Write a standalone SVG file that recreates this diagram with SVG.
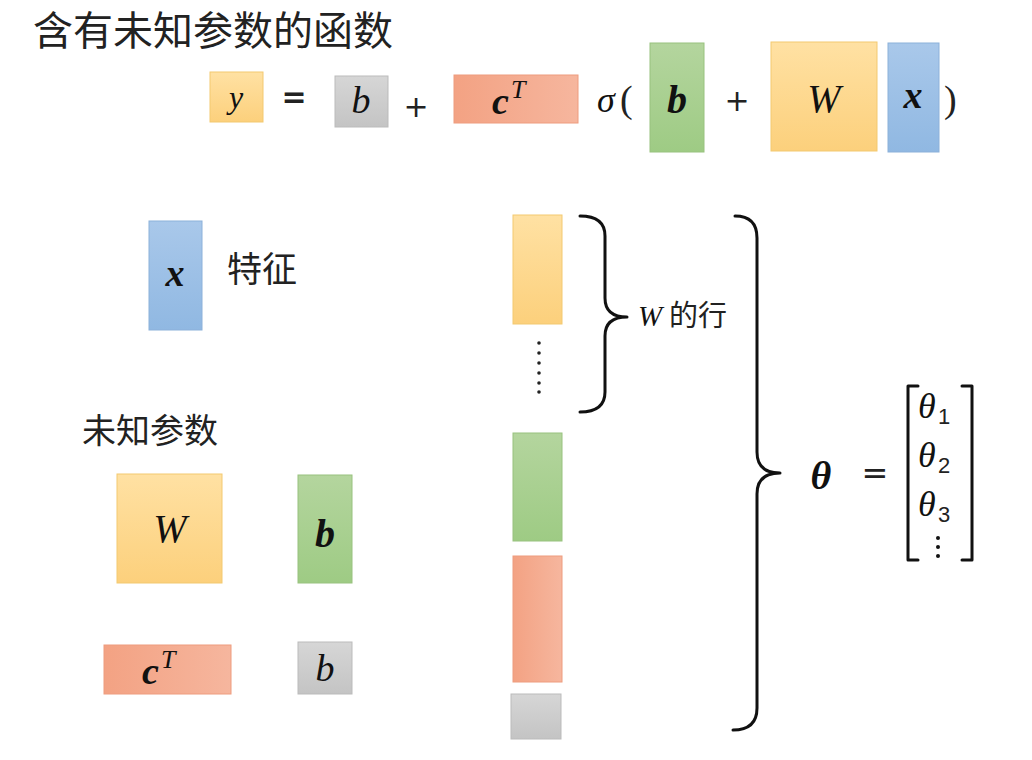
<svg xmlns="http://www.w3.org/2000/svg" width="1032" height="760" viewBox="0 0 1032 760">
<defs>
<linearGradient id="gy" x1="0" y1="0" x2="0" y2="1"><stop offset="0" stop-color="#FFE1A3"/><stop offset="1" stop-color="#FCD07C"/></linearGradient>
<linearGradient id="gg" x1="0" y1="0" x2="0" y2="1"><stop offset="0" stop-color="#B4D59E"/><stop offset="1" stop-color="#9ECB84"/></linearGradient>
<linearGradient id="gs" x1="0" y1="0" x2="1" y2="0"><stop offset="0" stop-color="#F3A283"/><stop offset="1" stop-color="#F6B69E"/></linearGradient>
<linearGradient id="gr" x1="0" y1="0" x2="0" y2="1"><stop offset="0" stop-color="#D6D6D6"/><stop offset="1" stop-color="#C4C4C4"/></linearGradient>
<linearGradient id="gb" x1="0" y1="0" x2="0" y2="1"><stop offset="0" stop-color="#A9C8EA"/><stop offset="1" stop-color="#90B8E2"/></linearGradient>
</defs>
<style>
.yel{fill:url(#gy);stroke:#F3C970;stroke-width:1}
.grn{fill:url(#gg);stroke:#98C27E;stroke-width:1}
.sal{fill:url(#gs);stroke:#EE9C7E;stroke-width:1}
.gry{fill:url(#gr);stroke:#BBBBBB;stroke-width:1}
.blu{fill:url(#gb);stroke:#8CB1DA;stroke-width:1}
.cjk{font-family:"Noto Sans CJK SC","Noto Sans",sans-serif;fill:#222}
.m{font-family:"Liberation Serif","DejaVu Serif",serif;font-style:italic;fill:#111}
.mb{font-family:"Liberation Serif","DejaVu Serif",serif;font-style:italic;font-weight:bold;fill:#111}
.op{font-family:"Liberation Serif","DejaVu Serif",serif;fill:#222}
.eq{font-family:"DejaVu Sans",sans-serif;fill:#222}
.sub{font-family:"Liberation Sans","DejaVu Sans",sans-serif;fill:#222}
.br{fill:none;stroke:#111;stroke-width:3;stroke-linecap:round;stroke-linejoin:round}
</style>
<text class="cjk" x="33" y="45" font-size="40">含有未知参数的函数</text>

<g id="eq">
<rect class="yel" x="210" y="72" width="53" height="50"/>
<text class="m" x="236" y="108" font-size="32" text-anchor="middle">y</text>
<text class="eq" x="294" y="107" font-size="30" text-anchor="middle" font-weight="bold">=</text>
<rect class="gry" x="335" y="76" width="53" height="51"/>
<text class="m" x="361" y="113" font-size="38" text-anchor="middle">b</text>
<text class="eq" x="416" y="117" font-size="30" text-anchor="middle">+</text>
<rect class="sal" x="454" y="75" width="124" height="48"/>
<text class="mb" x="492" y="114" font-size="38">c</text>
<text class="m" x="511" y="98" font-size="26">T</text>
<text class="m" x="597" y="112" font-size="36">σ</text>
<text class="op" x="620" y="112" font-size="38">(</text>
<rect class="grn" x="650" y="43" width="54" height="109"/>
<text class="mb" x="677" y="113" font-size="40" text-anchor="middle">b</text>
<text class="eq" x="737" y="111" font-size="30" text-anchor="middle">+</text>
<rect class="yel" x="771" y="42" width="106" height="109"/>
<text class="m" x="824" y="112" font-size="40" text-anchor="middle">W</text>
<rect class="blu" x="888" y="43" width="51" height="109"/>
<text class="mb" x="913" y="108" font-size="38" text-anchor="middle">x</text>
<text class="op" x="944" y="112" font-size="38">)</text>
</g>

<g id="feature">
<rect class="blu" x="149" y="221" width="53" height="109"/>
<text class="mb" x="175" y="286" font-size="38" text-anchor="middle">x</text>
<text class="cjk" x="227" y="282" font-size="35">特征</text>
</g>

<g id="params">
<text class="cjk" x="82" y="443" font-size="34">未知参数</text>
<rect class="yel" x="117" y="474" width="105" height="109"/>
<text class="m" x="170" y="542" font-size="40" text-anchor="middle">W</text>
<rect class="grn" x="298" y="475" width="54" height="108"/>
<text class="mb" x="325" y="547" font-size="40" text-anchor="middle">b</text>
<rect class="sal" x="104" y="645" width="127" height="49"/>
<text class="mb" x="142" y="684" font-size="38">c</text>
<text class="m" x="161" y="668" font-size="26">T</text>
<rect class="gry" x="298" y="642" width="54" height="52"/>
<text class="m" x="325" y="681" font-size="38" text-anchor="middle">b</text>
</g>

<g id="column">
<rect class="yel" x="513" y="215" width="49" height="109"/>
<g fill="#222">
<circle cx="539" cy="343" r="1.8"/><circle cx="539" cy="353" r="1.8"/><circle cx="539" cy="363" r="1.8"/>
<circle cx="539" cy="373" r="1.8"/><circle cx="539" cy="383" r="1.8"/><circle cx="539" cy="392" r="1.8"/>
</g>
<rect class="grn" x="513" y="433" width="49" height="108"/>
<rect class="sal" x="513" y="556" width="49" height="126"/>
<rect class="gry" x="511" y="694" width="50" height="45"/>
</g>

<g id="braces">
<path class="br" d="M580,216 Q605,216 605,236 L605,298 Q605,317 627,317 Q605,317 605,336 L605,392 Q605,412 580,412"/>
<text class="m" x="638" y="326" font-size="29">W</text>
<text class="cjk" x="669" y="326" font-size="29">的行</text>
<path class="br" d="M735,216 Q757,216 757,238 L757,452 Q757,473 780,473 Q757,473 757,494 L757,708 Q757,730 733,730"/>
</g>

<g id="theta">
<text class="mb" x="821" y="489" font-size="40" text-anchor="middle">θ</text>
<text class="eq" x="875" y="484" font-size="32" text-anchor="middle">=</text>
<path class="br" d="M918,386 L908,386 L908,560 L918,560" stroke-width="2.5" stroke-linecap="butt"/>
<path class="br" d="M962,386 L972,386 L972,560 L962,560" stroke-width="2.5" stroke-linecap="butt"/>
<text class="m" x="918" y="418" font-size="36">θ</text><text class="sub" x="938" y="424" font-size="22">1</text>
<text class="m" x="918" y="467" font-size="36">θ</text><text class="sub" x="938" y="473" font-size="22">2</text>
<text class="m" x="918" y="516" font-size="36">θ</text><text class="sub" x="938" y="522" font-size="22">3</text>
<g fill="#111"><circle cx="938" cy="538" r="2"/><circle cx="938" cy="547" r="2"/><circle cx="938" cy="556" r="2"/></g>
</g>
</svg>
